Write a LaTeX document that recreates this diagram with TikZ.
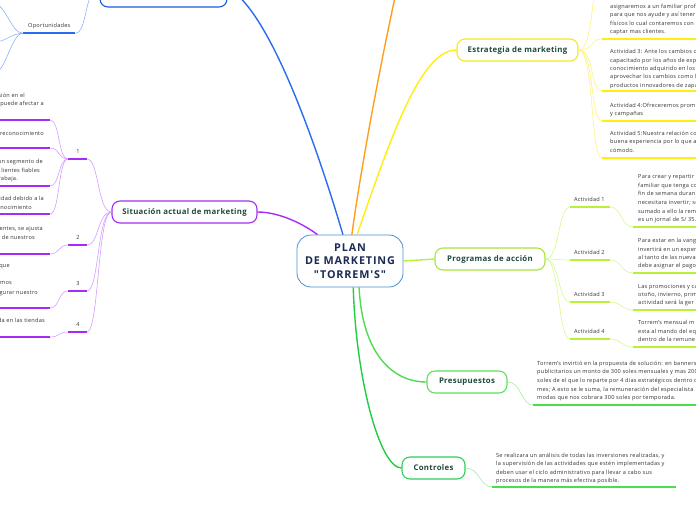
\documentclass[tikz,border=0pt]{standalone}
\usepackage{fontspec}
\setmainfont[LetterSpace=4]{Open Sans}
\newfontfamily\cenfont[LetterSpace=8]{Open Sans}
\usepackage{xcolor}
\usetikzlibrary{positioning}

\definecolor{txtgray}{HTML}{333333}
\definecolor{topicgreen}{HTML}{1F4A3C}
\definecolor{cennavy}{HTML}{1B2B55}
\definecolor{cenblue}{HTML}{4A90D0}
\definecolor{bluebd}{HTML}{1A5BE0}
\definecolor{blueln}{HTML}{2A6CF0}
\definecolor{bluelt}{HTML}{8FB0FF}
\definecolor{orangeln}{HTML}{FF9F1C}
\definecolor{yellowln}{HTML}{FFEE11}
\definecolor{yellowlt}{HTML}{FFF27A}
\definecolor{yellowbd}{HTML}{F8E71C}
\definecolor{limeln}{HTML}{B8F03A}
\definecolor{limelt}{HTML}{D6F98C}
\definecolor{limebd}{HTML}{A8E63A}
\definecolor{presln}{HTML}{4CDC4C}
\definecolor{preslt}{HTML}{9FF09F}
\definecolor{presbd}{HTML}{5EE05E}
\definecolor{ctrlln}{HTML}{22CC44}
\definecolor{ctrlbd}{HTML}{2FCF5A}
\definecolor{purpleln}{HTML}{A52CF5}
\definecolor{purplelt}{HTML}{D39CFF}
\definecolor{purplebd}{HTML}{A22FF0}

\begin{document}
\begin{tikzpicture}[x=1pt,y=-1pt,
    every node/.style={font=\fontsize{5.6}{8}\selectfont, text=txtgray, inner sep=0pt},
    topic/.style={draw, rounded corners=8pt, line width=1.1pt, fill=white,
      minimum height=22pt, font=\fontsize{7.8}{10}\selectfont\bfseries, text=topicgreen},
    branch/.style={line width=1.4pt},
    twig/.style={line width=0.6pt},
    ul/.style={line width=1.7pt},
    leaf/.style={anchor=base west},
    leafr/.style={anchor=base east},
  ]

  \useasboundingbox (0,0) rectangle (696,520);
  \clip (0,0) rectangle (696,520);

  % central topic and main topics
  \node[draw=cenblue, line width=0.8pt, rounded corners=14pt, fill=white,
    minimum width=106pt, minimum height=52pt, align=center,
    font=\cenfont\fontsize{10.8}{13.5}\selectfont\bfseries, text=cennavy]
    (plan) at (350,261) {PLAN\\DE MARKETING\\"TORREM'S"};
  \node[topic, draw=bluebd, minimum width=127pt, minimum height=38pt] (analisis) at (163.5,-12) {};
  \node[topic, draw=purplebd, minimum width=145pt] (situacion) at (184.5,212) {Situación actual de marketing};
  \node[topic, draw=yellowbd, minimum width=121pt] (estrategia) at (517.5,50) {Estrategia de marketing};
  \node[topic, draw=limebd, minimum width=110pt] (programas) at (490,259) {Programas de acción};
  \node[topic, draw=presbd, minimum width=80pt] (presupuestos) at (467,382) {Presupuestos};
  \node[topic, draw=ctrlbd, minimum width=63pt] (controles) at (433.5,468) {Controles};
  \coordinate (naranja) at (400,-25);

  \draw[branch, blueln] (plan.105) .. controls (318,150) and (270,10) .. (analisis.east);
  \draw[branch, orangeln] (plan.86) .. controls (362,160) and (385,40) .. (naranja);
  \draw[branch, yellowln] (plan.75) .. controls (390,140) and (420,50) .. (estrategia.west);
  \draw[branch, purpleln] (plan.141) .. controls (305,225) and (280,212) .. (situacion.east);
  \draw[branch, limeln] (plan.east) -- (programas.west);
  \draw[branch, presln] (plan.-71) .. controls (362,350) and (390,382) .. (presupuestos.west);
  \draw[branch, ctrlln] (plan.-83) .. controls (356,380) and (380,468) .. (controles.west);

  % Oportunidades
  \node[leaf] (oportunidades) at (28,27.7) {Oportunidades};
  \coordinate (op1) at (23,33.3);
  \coordinate (op2) at (75,33.3);
  \draw[ul, blueln] (op1) -- (op2);
  \draw[twig, bluelt] (op2) .. controls (88,33.3) and (84,-12) .. (analisis.west);
  \foreach \yy [count=\i] in {4,42,73} {
    \coordinate (oph\i) at (-6,\yy);
    \draw[twig, bluelt] (op1) .. controls +(-12,0) and +(12,0) .. (oph\i);
  }

  % Situacion actual de marketing
  \foreach \n/\yy in {1/159,2/245,3/291,4/332} {
    \coordinate (sn\n) at (87,\yy);
    \coordinate (sm\n) at (68,\yy);
    \draw[twig, purplelt] (situacion.west) .. controls +(-14,0) and +(12,0) .. (sn\n);
    \draw[ul, purpleln] (sn\n) -- (sm\n);
    \node[anchor=base] (num\n) at (78,\yy-6) {\n};
  }
  \foreach \p/\yy [count=\i] in {1/120,1/148,1/186,1/214,2/254,3/308,4/337} {
    \coordinate (sc\i) at (50,\yy);
    \coordinate (sd\i) at (-6,\yy);
    \draw[twig, purplelt] (sm\p) .. controls +(-10,0) and +(10,0) .. (sc\i);
    \draw[ul, purpleln] (sc\i) -- (sd\i);
  }
  \foreach \t/\xx/\yy [count=\i] in {{sión en el}/25/97, {puede afectar a}/44/105.3,
      {reconocimiento}/44/135.3, {un segmento de}/43/163.7, {lientes fiables}/40/172,
      {rabaja.}/18/180.3, {idad debido a la}/44/200.3, {onocimiento}/32/209.3,
      {lientes, se ajusta}/43/230.3, {a de nuestros}/35/239.3, {que}/10/267.7,
      {mos}/12/284.7, {gurar nuestro}/38/294.3, {da en las tiendas}/45/322}
    \node[leafr] (izq\i) at (\xx,\yy) {\t};

  % Estrategia de marketing
  \foreach \yy [count=\k] in {-22,39,91,121,158} {
    \coordinate (e\k) at (602,\yy);
    \coordinate (ee\k) at (700,\yy);
    \draw[twig, yellowlt] (estrategia.east) .. controls +(16,0) and +(-12,0) .. (e\k);
    \draw[ul, yellowln] (e\k) -- (ee\k);
  }
  \foreach \ln [count=\i from 0] in {{asignaremos a un familiar prof}, {para que nos ayude y así tener},
      {físicos lo cual contaremos con}, {captar mas clientes.}}
    \node[leaf] (act2-\i) at (610,8.3+8.5*\i) {\ln};
  \foreach \ln [count=\i from 0] in {{Actividad 3: Ante los cambios d}, {capacitado por los años de exp},
      {conocimiento adquirido en los a}, {aprovechar los cambios como l}, {productos innovadores de zapa}}
    \node[leaf] (act3-\i) at (610,53.7+8.33*\i) {\ln};
  \foreach \ln [count=\i from 0] in {{Actividad 4:Ofreceremos prom}, {y campañas}}
    \node[leaf] (act4-\i) at (610,107+8.6*\i) {\ln};
  \foreach \ln [count=\i from 0] in {{Actividad 5:Nuestra relación co}, {buena experiencia por lo que a}, {cómodo.}}
    \node[leaf] (act5-\i) at (610,135+8.6*\i) {\ln};

  % Programas de accion
  \foreach \n/\yy/\yd in {1/207/227,2/260/273,3/302/310,4/339/347} {
    \coordinate (pl\n) at (570,\yy);
    \coordinate (pr\n) at (610,\yy);
    \coordinate (pd\n) at (633,\yd);
    \coordinate (pe\n) at (700,\yd);
    \draw[twig, limelt] (programas.east) .. controls +(14,0) and +(-12,0) .. (pl\n);
    \draw[ul, limeln] (pl\n) -- (pr\n);
    \draw[twig, limelt] (pr\n) .. controls +(12,0) and +(-12,0) .. (pd\n);
    \draw[ul, limeln] (pd\n) -- (pe\n);
    \node[leaf] (lab\n) at (574,\yy-6) {Actividad \n};
  }
  \foreach \ln [count=\i from 0] in {{Para crear y repartir}, {familiar que tenga co}, {fin de semana duran},
      {necesitara invertir; se}, {sumado a ello la rem}, {es un jornal de S/ 35.}}
    \node[leaf] (det1-\i) at (638,178.7+8.6*\i) {\ln};
  \foreach \ln [count=\i from 0] in {{Para estar en la vang}, {invertirá en un exper},
      {al tanto de las nueva}, {debe asignar el pago}}
    \node[leaf] (det2-\i) at (638,242.7+8.4*\i) {\ln};
  \foreach \ln [count=\i from 0] in {{Las promociones y ca}, {otoño, invierno, prim}, {actividad será la ger}}
    \node[leaf] (det3-\i) at (638,288+8.4*\i) {\ln};
  \foreach \ln [count=\i from 0] in {{Torrem’s mensual m}, {esta al mando del eq}, {dentro de la remune}}
    \node[leaf] (det4-\i) at (638,324.7+8.4*\i) {\ln};

  % Presupuestos
  \coordinate (pu1) at (533,405);
  \coordinate (pu2) at (700,405);
  \draw[twig, preslt] (presupuestos.east) .. controls +(14,0) and +(-12,0) .. (pu1);
  \draw[ul, presln] (pu1) -- (pu2);
  \foreach \ln [count=\i from 0] in {{Torrem’s invirtió en la propuesta de solución: en banners},
      {publicitarios un monto de 300 soles mensuales y mas 200},
      {soles de el que lo reparte por 4 días estratégicos dentro d},
      {mes; A esto se le suma, la remuneración del especialista},
      {modas que nos cobrara 300 soles por temporada.}}
    \node[leaf] (pres-\i) at (537,365.3+8.6*\i) {\ln};

  % Controles
  \coordinate (cu1) at (492,487);
  \coordinate (cu2) at (676,487);
  \draw[twig, preslt] (controles.east) .. controls +(14,0) and +(-12,0) .. (cu1);
  \draw[ul, presln] (cu1) -- (cu2);
  \foreach \ln [count=\i from 0] in {{Se realizara un análisis de todas las inversiones realizadas, y},
      {la supervisión de las actividades que estén implementadas y},
      {deben usar el ciclo administrativo para llevar a cabo sus},
      {procesos de la manera más efectiva posible.}}
    \node[leaf] (ctrl-\i) at (496,457+8.6*\i) {\ln};

\end{tikzpicture}
\end{document}
